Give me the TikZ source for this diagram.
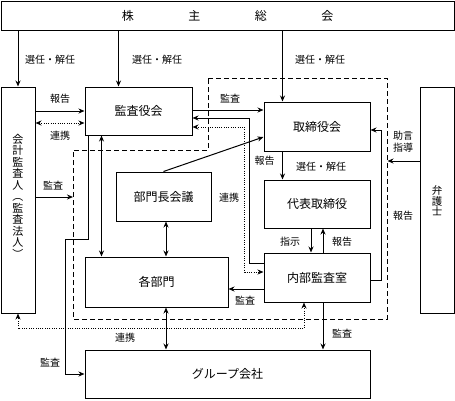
\documentclass[tikz,border=0pt]{standalone}
\usepackage{fontspec}
\setmainfont{Noto Sans CJK JP}
\usetikzlibrary{arrows.meta}
\tikzset{
  box/.style={draw, line width=1pt, rectangle, inner sep=0pt, font=\fontsize{12}{14}\selectfont},
  tip/.tip={Stealth[length=6pt,width=5pt]},
  arr/.style={line width=1pt, -tip},
  dbl/.style={line width=1pt, tip-tip},
  dotarr/.style={line width=1pt, dash pattern=on 1pt off 1.3pt, tip-tip},
  lbl/.style={font=\fontsize{10}{12.5}\selectfont, inner sep=0pt, align=center},
  region/.style={line width=1pt, dash pattern=on 5pt off 3pt},
}
\begin{document}
\begin{tikzpicture}[x=1pt, y=-1pt]
\useasboundingbox (0,0) rectangle (455,400);
% boxes
\node[box, minimum width=453pt, minimum height=29pt] (sh) at (227.5,15.5) {株\hspace{54.5pt}主\hspace{54.5pt}総\hspace{54.5pt}会};
\node[box, minimum width=34pt, minimum height=226pt] (kaikei) at (18,200) {};
\node[lbl, font=\fontsize{11}{11.5}\selectfont] (kaikeiT) at (18,196) {会\\計\\監\\査\\人\\︵\\監\\査\\法\\人\\︶};
\node[box, minimum width=107pt, minimum height=48pt] (kansa) at (138.5,111) {監査役会};
\node[box, minimum width=106pt, minimum height=49pt] (tori) at (317,126.5) {取締役会};
\node[box, minimum width=106pt, minimum height=48pt] (daihyo) at (317,204) {代表取締役};
\node[box, minimum width=106pt, minimum height=49pt] (naibu) at (317,277.5) {内部監査室};
\node[box, minimum width=95pt, minimum height=49pt] (bumoncho) at (163.5,196.5) {部門長会議};
\node[box, minimum width=143pt, minimum height=50pt] (kakubu) at (156.5,282) {各部門};
\node[box, minimum width=285pt, minimum height=48pt] (group) at (227.5,374) {グループ会社};
\node[box, minimum width=34pt, minimum height=226pt] (bengo) at (437,200) {};
\node[lbl, font=\fontsize{10.5}{10.5}\selectfont] (bengoT) at (437,201) {弁\\護\\士};
% dashed region
\draw[region] (208,78) -- (387,78) -- (387,319) -- (73,319) -- (73,150) -- (208,150) -- cycle;
% connectors
\draw[arr] (kaikei.north |- sh.south) -- (kaikei.north);
\draw[arr] ([xshift=34pt]kansa.north west |- sh.south) -- ([xshift=34pt]kansa.north west);
\draw[arr] ([xshift=19pt]tori.north west |- sh.south) -- ([xshift=19pt]tori.north west);
\draw[arr] (kaikei.east |- kansa.west) -- (kansa.west);
\draw[dotarr] ([yshift=-12pt]kansa.west -| kaikei.east) -- ([yshift=-12pt]kansa.west);
\coordinate (dl) at (73,197);
\draw[arr] (kaikei.east |- dl) -- (dl);
\draw[arr] ([yshift=1pt]kansa.east) -- ([yshift=1pt]kansa.east -| tori.west);
\draw[arr] ([yshift=14.5pt]naibu.west) -- ++(-14,0) |- ([yshift=-7pt]kansa.east);
\draw[dotarr] ([yshift=-16pt]kansa.east) -- ++(52,0) |- ([yshift=5.5pt]naibu.west);
\draw[arr] (bumoncho.north) -- ([yshift=-10.5pt]tori.west);
\draw[arr] ([xshift=19pt]tori.south west) -- ([xshift=19pt]tori.south west |- daihyo.north);
\draw[arr] ([xshift=-6pt]daihyo.south) -- ([xshift=-6pt]daihyo.south |- naibu.north);
\draw[arr] ([xshift=6pt]naibu.north) -- ([xshift=6pt]naibu.north |- daihyo.south);
\draw[arr] ([yshift=-2.5pt]naibu.east) -- ++(11,0) |- ([yshift=-3.5pt]tori.east);
\draw[arr] ([yshift=39pt]bengo.west) -- ++(-32,0);
\draw[arr] ([yshift=-11.5pt]naibu.west) -- ([yshift=-11.5pt]naibu.west -| kakubu.east);
\draw[arr] ([xshift=6pt]naibu.south) -- ([xshift=6pt]naibu.south |- group.north);
\draw[dotarr] ([xshift=-13pt]naibu.south) -- ++(0,26) -| (kaikei.south);
\draw[arr] ([xshift=4pt]kansa.south west) -- ++(0,104) -- ++(-23,0) |- (group.west);
\draw[dbl] ([xshift=17pt]kansa.south west) -- ([xshift=17pt]kansa.south west |- kakubu.north);
\draw[dbl] ([xshift=2.5pt]bumoncho.south) -- ([xshift=2.5pt]bumoncho.south |- kakubu.north);
\draw[dbl] ([xshift=9.5pt]kakubu.south) -- ([xshift=9.5pt]kakubu.south |- group.north);
% labels
\node[lbl] (l1) at (50,60) {選任・解任};
\node[lbl] (l2) at (157,60) {選任・解任};
\node[lbl] (l3) at (320,60) {選任・解任};
\node[lbl] (l4) at (60,99) {報告};
\node[lbl] (l5) at (60,136) {連携};
\node[lbl] (l6) at (53,186) {監査};
\node[lbl] (l7) at (230,99) {監査};
\node[lbl] (l8) at (229,198) {連携};
\node[lbl] (l9) at (264.5,161) {報告};
\node[lbl] (l10) at (321,167) {選任・解任};
\node[lbl] (l11) at (290,242) {指示};
\node[lbl] (l12) at (342,242) {報告};
\node[lbl] (l13) at (245,301) {監査};
\node[lbl] (l14) at (342,334) {監査};
\node[lbl] (l15) at (125,338) {連携};
\node[lbl] (l16) at (50,363) {監査};
\node[lbl] (l17) at (403,141.5) {助言\\指導};
\node[lbl] (l18) at (403,216) {報告};
\end{tikzpicture}
\end{document}
